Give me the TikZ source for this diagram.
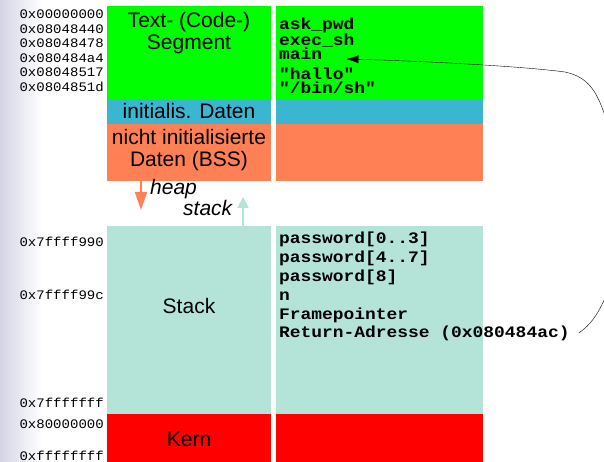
\documentclass[tikz,border=0pt]{standalone}
\usepackage{fontspec}
\setmainfont{Liberation Sans}
\setmonofont{Liberation Mono}
\newfontfamily\addrfont{Liberation Mono}[FakeStretch=1.08]
\newfontfamily\symfont{Liberation Mono}[FakeStretch=1.12]
\usetikzlibrary{arrows.meta}
\definecolor{textseg}{RGB}{0,255,0}
\definecolor{initdata}{RGB}{58,182,208}
\definecolor{bssdata}{RGB}{255,128,85}
\definecolor{stackseg}{RGB}{180,228,216}
\definecolor{kernseg}{RGB}{255,0,0}
\definecolor{margin}{RGB}{212,212,230}
\tikzset{
  addr/.style={anchor=base east, inner sep=0pt, font=\fontsize{13}{13}\addrfont},
  sym/.style={anchor=base west, inner sep=0pt, text height=9pt, text depth=1pt,
    font=\fontsize{16}{16}\symfont\bfseries},
  seg/.style={inner sep=0pt, align=center, font=\fontsize{21}{22}\selectfont},
  growarrow/.style={line width=2pt},
}

\begin{document}
\begin{tikzpicture}[x=1pt, y=-1pt]
			%%%%% START %%%%%
			\useasboundingbox (0, 0) rectangle (604, 462);
			\clip (0, 0) rectangle (604, 462);
			\shade[left color=margin, right color=white] (0, 0) rectangle (42, 462);
			
			% segments, left and right column
			\fill[textseg] (107, 6) rectangle (271, 99);
			\fill[textseg] (276, 6) rectangle (483, 99);
			\fill[initdata] (107, 99) rectangle (271, 124);
			\fill[initdata] (276, 99) rectangle (483, 124);
			\fill[bssdata] (107, 124) rectangle (271, 181);
			\fill[bssdata] (276, 124) rectangle (483, 181);
			\fill[stackseg] (107, 226) rectangle (271, 414);
			\fill[stackseg] (276, 226) rectangle (483, 414);
			\fill[kernseg] (107, 414) rectangle (271, 462);
			\fill[kernseg] (276, 414) rectangle (483, 462);
			
			\node[seg] (text) at (189, 33.5) {Text- (Code-)\\Segment};
			\node[seg, anchor=base] (init) at (189, 119) {initialis. Daten};
			\node[seg] (bss) at (189, 150) {nicht initialisierte\\Daten (BSS)};
			\node[seg, anchor=base] (stack) at (189, 313) {Stack};
			\node[seg, anchor=base] (kern) at (189, 446) {Kern};
			
			% heap and stack growth
			\draw[growarrow, bssdata, -{Triangle[length=18pt, width=12pt]}] (141, 181) -- (141, 210);
			\draw[growarrow, stackseg, -{Triangle[length=11pt, width=11pt]}] (243, 226) -- (243, 197);
			\node[seg, anchor=base west, font=\fontsize{21}{22}\itshape] (heap) at (150, 195) {heap};
			\node[seg, anchor=base west, font=\fontsize{21}{22}\itshape] (stk) at (183, 215) {stack};
			
			% addresses
			\node[addr] (a0) at (104, 19) {0x00000000};
			\node[addr] (a1) at (104, 34) {0x08048440};
			\node[addr] (a2) at (104, 48) {0x08048478};
			\node[addr] (a3) at (104, 63) {0x080484a4};
			\node[addr] (a4) at (104, 77) {0x08048517};
			\node[addr] (a5) at (104, 92) {0x0804851d};
			\node[addr] (a6) at (104, 246) {0x7ffff990};
			\node[addr] (a7) at (104, 299) {0x7ffff99c};
			\node[addr] (a8) at (104, 407) {0x7fffffff};
			\node[addr] (a9) at (104, 428) {0x80000000};
			\node[addr] (a10) at (104, 460) {0xffffffff};
			
			% symbols
			\node[sym] (askpwd) at (279, 30) {ask\_pwd};
			\node[sym] (execsh) at (279, 46) {exec\_sh};
			\node[sym] (main) at (279, 60) {main};
			\node[sym] (hallo) at (279, 80) {"hallo"};
			\node[sym] (binsh) at (279, 94) {"/bin/sh"};
			
			\node[sym] (pw0) at (279, 243) {password[0..3]};
			\node[sym] (pw4) at (279, 262) {password[4..7]};
			\node[sym] (pw8) at (279, 281) {password[8]};
			\node[sym] (n) at (279, 300) {n};
			\node[sym] (fp) at (279, 319) {Framepointer};
			\node[sym] (ret) at (279, 337) {Return-Adresse (0x080484ac)};
			
			% return address points to main
			\draw[-{Latex[length=12pt, width=8pt]}] ([xshift=9pt]ret.east) .. controls (595, 322) and (603, 305) .. (612, 280) -- (612, 140) .. controls (600, 95) and (592, 78) .. (565, 72) .. controls (520, 66) and (420, 61) .. ([xshift=24pt, yshift=1pt]main.base east);
			
			%%%%% END %%%%%
\end{tikzpicture}
\end{document}
